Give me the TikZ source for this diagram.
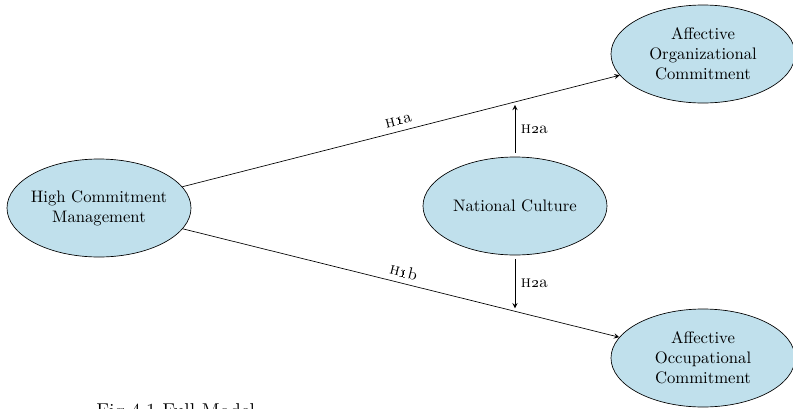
\documentclass[tikz,border=0pt]{standalone}
\usetikzlibrary{positioning,arrows.meta,shapes.geometric,calc}
\tikzset{>=stealth}
\definecolor{construct}{RGB}{192,224,236}
\newcommand*{\hyp}[2]{\textsc{h}\oldstylenums{#1}#2}

\begin{document}
\begin{tikzpicture}[x=0.6pt,y=-0.6pt,
  var/.style={ellipse,draw,fill=construct,align=center,
    minimum width=110.4pt,minimum height=58.8pt,inner xsep=-4pt,inner ysep=0pt}]
\useasboundingbox (0,0) rectangle (793,408);
% Constructs
\node[var] (hcm) at (99,208) {High Commitment\\Management};
\node[var] (aoc) at (703,54) {Affective\\Organizational\\Commitment};
\node[var] (occ) at (703,358) {Affective\\Occupational\\Commitment};
\node[var] (nc) at (515,206) {National Culture};

% Main effects
\draw[->] (hcm) -- node[above,sloped] {\hyp{1}{a}} (aoc);
\draw[->] (hcm) -- node[above,sloped] {\hyp{1}{b}} (occ);

% Moderation onto the two paths
\coordinate (m1) at ($(hcm)!0.6887!(aoc)$);
\coordinate (m2) at ($(hcm)!0.6887!(occ)$);
\draw[->,shorten <=2.4pt,shorten >=1.8pt] (nc.north) -- node[right] {\hyp{2}{a}} (nc.north |- m1);
\draw[->,shorten <=2.4pt,shorten >=1.8pt] (nc.south) -- node[right] {\hyp{2}{a}} (nc.south |- m2);

% Caption, cut off by the page edge
\node[anchor=base west,inner sep=0pt,font=\large] (cap) at (96,417) {Fig 4.1 Full Model};
\end{tikzpicture}
\end{document}
